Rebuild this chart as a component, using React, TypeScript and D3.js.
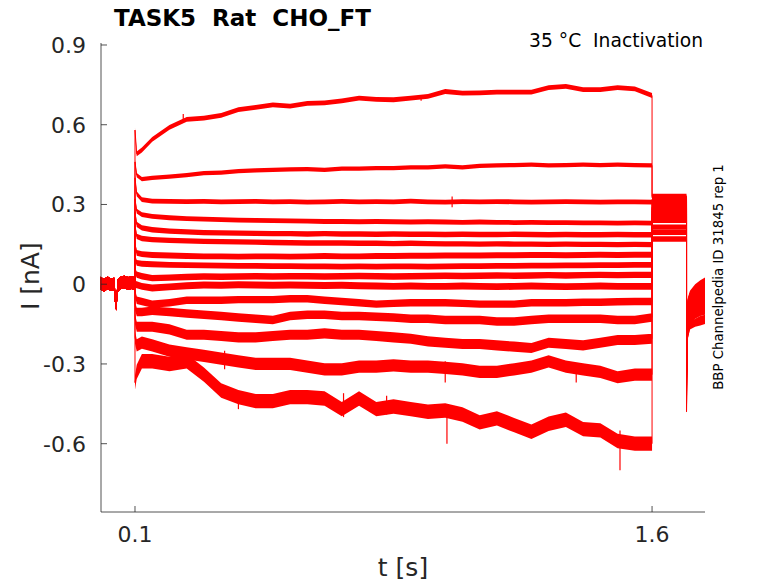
import * as d3 from "d3";

// time grid of the voltage step (s)
const stepTimes = [
  0.1, 0.105, 0.12, 0.15, 0.2, 0.25, 0.3, 0.35, 0.4, 0.45, 0.5, 0.55, 0.6, 0.65,
  0.7, 0.75, 0.8, 0.85, 0.9, 0.95, 1.0, 1.05, 1.1, 1.15, 1.2, 1.25, 1.3, 1.35,
  1.4, 1.45, 1.5, 1.55, 1.6,
];

// one row per sweep, current in nA on stepTimes
const stepCurrents = [
  [0.58, 0.49, 0.505, 0.545, 0.59, 0.62, 0.625, 0.635, 0.657, 0.665, 0.675, 0.67, 0.68, 0.682, 0.69, 0.7, 0.695, 0.694, 0.7, 0.707, 0.725, 0.719, 0.72, 0.723, 0.723, 0.723, 0.74, 0.744, 0.732, 0.732, 0.74, 0.735, 0.71],
  [0.46, 0.41, 0.395, 0.4, 0.405, 0.41, 0.418, 0.42, 0.425, 0.428, 0.43, 0.432, 0.433, 0.43, 0.435, 0.435, 0.437, 0.437, 0.44, 0.44, 0.443, 0.44, 0.445, 0.447, 0.448, 0.45, 0.447, 0.448, 0.45, 0.448, 0.45, 0.448, 0.447],
  [0.4, 0.34, 0.318, 0.313, 0.312, 0.311, 0.312, 0.31, 0.311, 0.312, 0.31, 0.311, 0.309, 0.31, 0.312, 0.31, 0.311, 0.31, 0.313, 0.31, 0.309, 0.311, 0.31, 0.311, 0.31, 0.309, 0.31, 0.311, 0.31, 0.309, 0.31, 0.31, 0.309],
  [0.32, 0.275, 0.262, 0.255, 0.25, 0.247, 0.245, 0.243, 0.241, 0.24, 0.239, 0.238, 0.237, 0.236, 0.236, 0.235, 0.236, 0.235, 0.234, 0.235, 0.234, 0.233, 0.234, 0.233, 0.232, 0.233, 0.232, 0.232, 0.231, 0.231, 0.23, 0.231, 0.23],
  [0.27, 0.225, 0.212, 0.205, 0.2, 0.197, 0.194, 0.193, 0.192, 0.191, 0.19, 0.19, 0.189, 0.19, 0.189, 0.189, 0.188, 0.189, 0.188, 0.188, 0.187, 0.188, 0.187, 0.187, 0.188, 0.187, 0.186, 0.187, 0.186, 0.186, 0.187, 0.186, 0.186],
  [0.22, 0.18, 0.172, 0.168, 0.165, 0.163, 0.161, 0.16, 0.159, 0.158, 0.157, 0.156, 0.155, 0.155, 0.155, 0.154, 0.154, 0.153, 0.154, 0.153, 0.152, 0.152, 0.151, 0.152, 0.151, 0.151, 0.15, 0.151, 0.15, 0.15, 0.149, 0.15, 0.149],
  [0.15, 0.118, 0.113, 0.11, 0.108, 0.106, 0.105, 0.105, 0.104, 0.105, 0.105, 0.104, 0.105, 0.106, 0.105, 0.105, 0.106, 0.106, 0.107, 0.107, 0.108, 0.108, 0.108, 0.109, 0.109, 0.11, 0.11, 0.109, 0.11, 0.111, 0.11, 0.111, 0.111],
  [0.1, 0.08, 0.077, 0.075, 0.073, 0.072, 0.071, 0.07, 0.069, 0.069, 0.068, 0.068, 0.067, 0.067, 0.066, 0.067, 0.066, 0.067, 0.067, 0.066, 0.067, 0.068, 0.068, 0.069, 0.069, 0.07, 0.07, 0.071, 0.071, 0.072, 0.072, 0.073, 0.073],
  [0.05, 0.036, 0.03, 0.023, 0.025, 0.027, 0.029, 0.028, 0.029, 0.03, 0.029, 0.03, 0.03, 0.029, 0.03, 0.031, 0.03, 0.029, 0.03, 0.031, 0.032, 0.031, 0.032, 0.033, 0.032, 0.033, 0.034, 0.033, 0.034, 0.035, 0.034, 0.035, 0.035],
  [0.0, -0.002, -0.008, -0.014, -0.01, -0.006, -0.003, -0.004, -0.002, -0.003, -0.004, -0.003, -0.004, -0.005, -0.004, -0.006, -0.007, -0.008, -0.007, -0.008, -0.008, -0.007, -0.008, -0.009, -0.008, -0.007, -0.008, -0.009, -0.008, -0.007, -0.008, -0.008, -0.008],
  [-0.03, -0.06, -0.065, -0.075, -0.07, -0.06, -0.06, -0.06, -0.058, -0.058, -0.058, -0.055, -0.055, -0.06, -0.065, -0.07, -0.075, -0.072, -0.07, -0.07, -0.07, -0.072, -0.075, -0.075, -0.075, -0.07, -0.07, -0.07, -0.068, -0.068, -0.066, -0.065, -0.065],
  [-0.08, -0.105, -0.105, -0.1, -0.105, -0.11, -0.115, -0.12, -0.125, -0.13, -0.135, -0.12, -0.115, -0.115, -0.12, -0.12, -0.122, -0.125, -0.13, -0.13, -0.135, -0.135, -0.135, -0.14, -0.14, -0.135, -0.13, -0.13, -0.13, -0.13, -0.135, -0.135, -0.125],
  [-0.13, -0.16, -0.16, -0.16, -0.17, -0.19, -0.19, -0.195, -0.2, -0.2, -0.195, -0.19, -0.19, -0.185, -0.19, -0.19, -0.195, -0.2, -0.205, -0.215, -0.22, -0.225, -0.225, -0.23, -0.235, -0.24, -0.22, -0.225, -0.23, -0.22, -0.21, -0.21, -0.205],
  [-0.2, -0.23, -0.22, -0.23, -0.25, -0.26, -0.27, -0.28, -0.29, -0.3, -0.3, -0.3, -0.31, -0.32, -0.32, -0.31, -0.31, -0.305, -0.31, -0.31, -0.315, -0.32, -0.33, -0.33, -0.32, -0.31, -0.29, -0.31, -0.32, -0.33, -0.35, -0.34, -0.34],
  [-0.37, -0.33, -0.29, -0.29, -0.3, -0.29, -0.34, -0.4, -0.425, -0.44, -0.44, -0.425, -0.425, -0.43, -0.47, -0.43, -0.47, -0.46, -0.47, -0.48, -0.475, -0.49, -0.52, -0.505, -0.53, -0.555, -0.525, -0.51, -0.545, -0.55, -0.59, -0.6, -0.6],
];

// half-width of the noise band of each sweep (nA)
const noiseBand = [0.009, 0.008, 0.009, 0.009, 0.01, 0.01, 0.011, 0.011, 0.012, 0.013, 0.014, 0.016, 0.019, 0.023, 0.027];

// single noise spikes that stick out of the bands: sweep, time, low, high
const spikeSweep = [14, 14, 14, 14, 14, 13, 13, 13, 0, 0, 2];
const spikeTimes = [1.507, 1.005, 0.705, 0.83, 0.4, 1.0, 1.38, 0.36, 0.24, 0.93, 1.02];
const spikeLow = [-0.7, -0.6, -0.5, -0.49, -0.47, -0.37, -0.37, -0.32, 0.61, 0.69, 0.29];
const spikeHigh = [-0.55, -0.47, -0.41, -0.42, -0.41, -0.29, -0.31, -0.25, 0.64, 0.71, 0.33];

// holding period before the step
const preTimes = [0, 0.01, 0.02, 0.03, 0.04, 0.043, 0.046, 0.05, 0.06, 0.07, 0.08, 0.09, 0.1];
const preCurrent = [0.004, -0.004, 0.005, -0.002, 0.0, -0.065, -0.075, -0.005, 0.006, 0.008, 0.003, 0.006, 0.002];

// test pulse after the step
const postTimes = [1.6, 1.7];
const postCurrent = [0.33, 0.325, 0.32, 0.315, 0.31, 0.3, 0.29, 0.285, 0.275, 0.265, 0.255, 0.24, 0.215, 0.195, 0.17];

// return to holding potential
const tailTimes = [1.7, 1.703, 1.71, 1.725, 1.74, 1.7536];
const tailCurrents = [
  [-0.48, -0.2, -0.16, -0.15, -0.145, -0.14],
  [-0.45, -0.19, -0.15, -0.14, -0.13, -0.125],
  [-0.42, -0.18, -0.14, -0.12, -0.11, -0.105],
  [-0.4, -0.17, -0.13, -0.11, -0.1, -0.095],
  [-0.38, -0.16, -0.12, -0.1, -0.09, -0.085],
  [-0.36, -0.15, -0.11, -0.09, -0.075, -0.07],
  [-0.35, -0.14, -0.1, -0.08, -0.065, -0.06],
  [-0.34, -0.13, -0.09, -0.07, -0.055, -0.05],
  [-0.33, -0.12, -0.08, -0.06, -0.045, -0.04],
  [-0.32, -0.11, -0.07, -0.05, -0.035, -0.03],
  [-0.31, -0.1, -0.06, -0.04, -0.025, -0.02],
  [-0.3, -0.09, -0.05, -0.03, -0.015, -0.01],
  [-0.29, -0.08, -0.045, -0.02, -0.005, 0.0],
  [-0.28, -0.07, -0.04, -0.015, 0.0, 0.01],
  [-0.27, -0.065, -0.035, -0.01, 0.005, 0.015],
];

const yTickValues = [-0.6, -0.3, 0, 0.3, 0.6, 0.9];
const yTickLabels = ["-0.6", "-0.3", "0", "0.3", "0.6", "0.9"];
const xTickValues = [0.1, 1.6];
const xTickLabels = ["0.1", "1.6"];

type Pt = { t: number; v: number; s: number };

export default function App() {
  const width = 778;
  const height = 583;
  const left = 101;
  const right = 705;
  const top = 43;
  const bottom = 512;
  const font = "DejaVu Sans, sans-serif";
  const axisColor = "#262626";
  const red = "#ff0000";

  const x = d3.scaleLinear().domain([0.0014, 1.7536]).range([left, right]);
  const y = d3.scaleLinear().domain([-0.857, 0.9075]).range([bottom, top]);

  const sweeps: Pt[][] = stepCurrents.map((row, k) => [
    ...preTimes.map((t, i) => ({ t, v: preCurrent[i], s: 0.024 })),
    ...stepTimes.map((t, i) => ({ t, v: row[i], s: noiseBand[k] })),
    ...postTimes.map((t) => ({ t, v: postCurrent[k], s: 0.01 })),
    ...tailTimes.map((t, i) => ({ t, v: tailCurrents[k][i], s: 0.01 })),
  ]);

  const band = d3
    .area<Pt>()
    .x((d) => x(d.t))
    .y0((d) => y(d.v - d.s))
    .y1((d) => y(d.v + d.s));
  const line = d3
    .line<Pt>()
    .x((d) => x(d.t))
    .y((d) => y(d.v));

  return (
    <svg
      width={width}
      height={height}
      style={{ position: "absolute", left: 0, top: 0, background: "#fff" }}
      fontFamily={font}
    >
      {/* sweeps */}
      {sweeps.map((pts, i) => (
        <g key={i}>
          <path d={band(pts) || ""} fill={red} />
          <path d={line(pts) || ""} fill="none" stroke={red} strokeWidth={1} />
        </g>
      ))}
      {spikeTimes.map((t, i) => (
        <line
          key={i}
          x1={x(t)}
          x2={x(t)}
          y1={y(spikeLow[i])}
          y2={y(spikeHigh[i])}
          stroke={red}
          strokeWidth={1.2}
          data-sweep={spikeSweep[i]}
        />
      ))}

      {/* axes */}
      <line x1={left} x2={left} y1={top} y2={bottom} stroke={axisColor} strokeWidth={0.8} />
      <line x1={left} x2={right} y1={bottom} y2={bottom} stroke={axisColor} strokeWidth={0.8} />
      {yTickValues.map((v, i) => (
        <g key={i} transform={`translate(${left}, ${y(v)})`}>
          <line x2={6} stroke={axisColor} strokeWidth={0.8} />
          <text x={-15} dy="0.36em" textAnchor="end" fontSize={22} fill={axisColor}>
            {yTickLabels[i]}
          </text>
        </g>
      ))}
      {xTickValues.map((t, i) => (
        <g key={i} transform={`translate(${x(t)}, ${bottom})`}>
          <line y2={-6} stroke={axisColor} strokeWidth={0.8} />
          <text y={30} textAnchor="middle" fontSize={22} fill={axisColor}>
            {xTickLabels[i]}
          </text>
        </g>
      ))}

      {/* labels */}
      <text x={(left + right) / 2} y={576} textAnchor="middle" fontSize={25} fill={axisColor}>
        t [s]
      </text>
      <text
        transform={`translate(39, ${y(0) - 8}) rotate(-90)`}
        textAnchor="middle"
        fontSize={25}
        fill={axisColor}
      >
        I [nA]
      </text>
      <text x={114} y={26} fontSize={23} fontWeight="bold" fill="#000" style={{ whiteSpace: "pre" }}>
        TASK5  Rat  CHO_FT
      </text>
      <text x={703} y={47} textAnchor="end" fontSize={18.7} fill="#000" style={{ whiteSpace: "pre" }}>
        35 °C  Inactivation
      </text>
      <text
        transform={`translate(723, 277) rotate(-90)`}
        textAnchor="middle"
        fontSize={13.3}
        fill="#000"
      >
        BBP Channelpedia ID 31845 rep 1
      </text>
    </svg>
  );
}
